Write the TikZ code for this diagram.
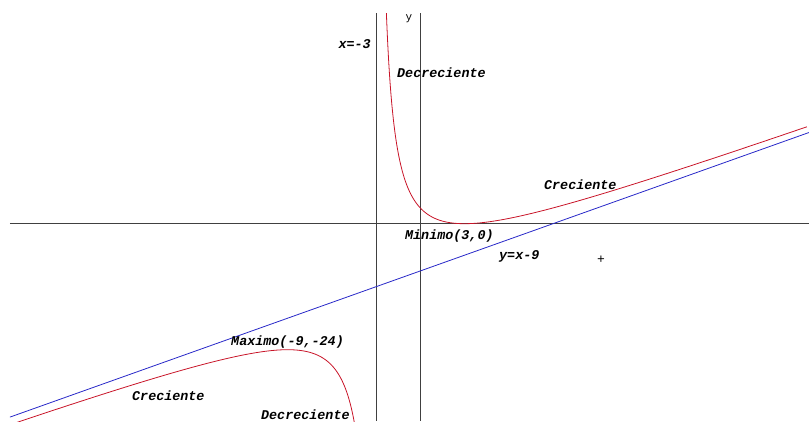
\documentclass[tikz,border=0pt]{standalone}
\usepackage{fontspec}
\newfontfamily\labfont{Liberation Mono}
\begin{document}
\begin{tikzpicture}[x=14.74pt,y=5.25pt,
  axisline/.style={draw=black!75,line width=0.8pt},
  lab/.style={inner sep=0pt,anchor=mid west,font=\labfont\bfseries\itshape\fontsize{13.4}{15}\selectfont},
  curve/.style={draw={rgb,255:red,200;green,20;blue,40},line width=0.8pt},
  asym/.style={draw={rgb,255:red,40;green,40;blue,200},line width=0.8pt}]
\useasboundingbox (-28.514,-37.581) rectangle (26.371,42.610);
% axes and vertical asymptote
\coordinate (xl) at (-27.84,0);
\coordinate (xr) at (26.371,0);
\coordinate (yt) at (0,40.13);
\coordinate (yb) at (0,-37.581);
\coordinate (at) at (-3,40.13);
\coordinate (ab) at (-3,-37.581);
\draw[axisline] (xl) -- (xr);
\draw[axisline] (yt) -- (yb);
\draw[axisline] (at) -- (ab);
% oblique asymptote y = x - 9
\coordinate (bl) at (-27.84,-36.84);
\coordinate (br) at (26.371,17.371);
\draw[asym] (bl) -- (br);
% curve f(x) = (x-3)^2/(x+3)
\begin{scope}
\clip (-27.84,-37.581) rectangle (26.371,40.13);
\draw[curve] plot[domain=-0.371:3.381,samples=500,smooth]
  ({-3+exp(\x)},{exp(\x)-12+36/exp(\x)});
\draw[curve] plot[domain=0.39:3.43,samples=500,smooth]
  ({-3-exp(\x)},{-exp(\x)-12-36/exp(\x)});
\end{scope}
% labels
\node[lab,anchor=mid east] (lx) at (-3.345,33.85) {x=-3};
\node[inner sep=0pt,font=\labfont\fontsize{11}{13}\selectfont] (ly) at (-0.77,39.0) {y};
\node[lab] (ld1) at (-1.58,28.32) {Decreciente};
\node[lab] (lc1) at (8.39,6.99) {Creciente};
\node[lab] (lmin) at (-1.04,-2.53) {Minimo(3,0)};
\node[lab] (lasy) at (5.34,-6.34) {y=x-9};
\node[inner sep=0pt,font=\labfont\fontsize{13}{15}\selectfont] (lplus) at (12.26,-6.91) {+};
\node[lab] (lmax) at (-12.84,-22.72) {Maximo(-9,-24)};
\node[lab] (lc2) at (-19.56,-33.20) {Creciente};
\node[lab] (ld2) at (-10.81,-36.82) {Decreciente};
\end{tikzpicture}
\end{document}
